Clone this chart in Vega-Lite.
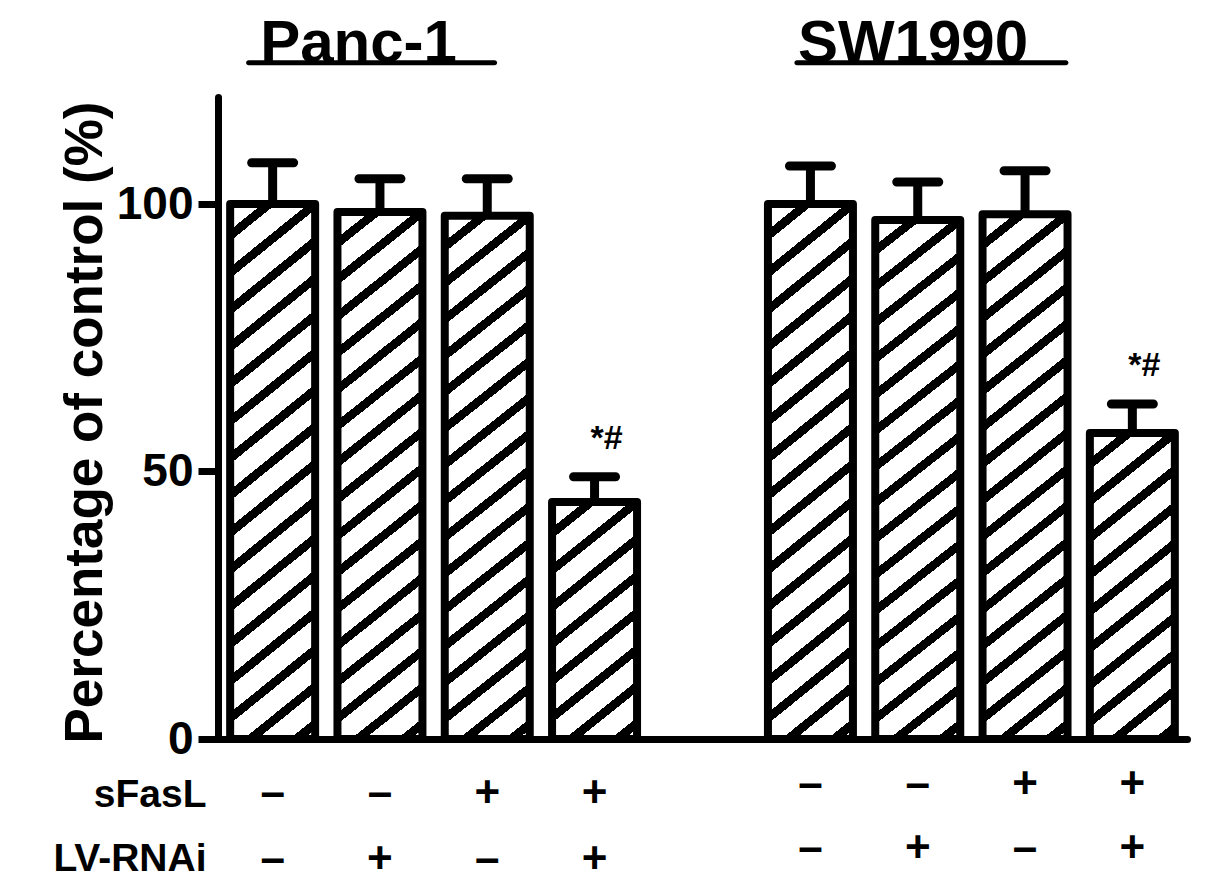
{
"$schema": "https://vega.github.io/schema/vega-lite/v6.json",
"width": 969,
"height": 642,
"autosize": {"type": "none"},
"padding": {"left": 218, "top": 97, "right": 18, "bottom": 149},
"background": "white",
"config": {"view": {"stroke": null}, "font": "Liberation Sans", "text": {"font": "Liberation Sans", "fontWeight": "bold", "color": "black"}},
"data": {"values": [
 {"line": "Panc-1", "cond": "Control", "sFasL": "–", "LV": "–", "value": 100, "upper": 107.7, "sig": ""},
 {"line": "Panc-1", "cond": "LV-RNAi", "sFasL": "–", "LV": "+", "value": 98.5, "upper": 104.7, "sig": ""},
 {"line": "Panc-1", "cond": "sFasL", "sFasL": "+", "LV": "–", "value": 97.8, "upper": 104.7, "sig": ""},
 {"line": "Panc-1", "cond": "sFasL+LV-RNAi", "sFasL": "+", "LV": "+", "value": 44.3, "upper": 49.0, "sig": "*#"},
 {"line": "SW1990", "cond": "Control", "sFasL": "–", "LV": "–", "value": 100, "upper": 107.1, "sig": ""},
 {"line": "SW1990", "cond": "LV-RNAi", "sFasL": "–", "LV": "+", "value": 97.0, "upper": 104.1, "sig": ""},
 {"line": "SW1990", "cond": "sFasL", "sFasL": "+", "LV": "–", "value": 98.1, "upper": 106.2, "sig": ""},
 {"line": "SW1990", "cond": "sFasL+LV-RNAi", "sFasL": "+", "LV": "+", "value": 57.2, "upper": 62.6, "sig": "*#"}
]},
"layer": [
 {
  "mark": {"type": "bar", "stroke": "black", "strokeWidth": 8, "strokeJoin": "round"},
  "encoding": {
   "x": {"field": "line", "type": "nominal", "scale": {"paddingInner": 0.2434, "paddingOuter": 0.0226},
     "axis": {"labels": false, "ticks": false, "domainColor": "black", "domainWidth": 7, "domainCap": "round",
       "title": ["sFasL", "LV-RNAi"], "titleFont": "Liberation Sans", "titleFontSize": 39, "titleFontWeight": "bold", "titleColor": "black",
       "titleAlign": "right", "titleBaseline": "alphabetic", "titleLineHeight": 64, "titleX": -12, "titleY": 67}},
   "xOffset": {"field": "cond", "type": "nominal", "scale": {"paddingInner": 0.208, "paddingOuter": 0}},
   "y": {"field": "value", "type": "quantitative", "scale": {"domain": [0, 120], "nice": false},
     "axis": {"values": [0, 50, 100], "grid": false, "domainColor": "black", "domainWidth": 7, "domainCap": "round",
       "tickColor": "black", "tickSize": 20, "tickWidth": 7, "labelFont": "Liberation Sans", "labelFontSize": 46, "labelFontWeight": "bold",
       "labelColor": "black", "labelPadding": 5, "title": "Percentage of control (%)", "titleFont": "Liberation Sans", "titleFontSize": 53,
       "titleFontWeight": "bold", "titleColor": "black", "titleX": -117, "titleY": 325, "titleAlign": "center", "titleBaseline": "alphabetic", "titleAngle": 270}},
   "fill": {
    "condition": [
     {"test": "datum.value < 50", "value": {"gradient": "linear", "x1": 0, "y1": 0, "x2": 0.3412, "y2": 1.189, "stops": [
      {"offset": 0, "color": "#fff"},
      {"offset": 0.0847, "color": "#fff"}, {"offset": 0.0847, "color": "#000"}, {"offset": 0.1207, "color": "#000"}, {"offset": 0.1207, "color": "#fff"},
      {"offset": 0.2054, "color": "#fff"}, {"offset": 0.2054, "color": "#000"}, {"offset": 0.2414, "color": "#000"}, {"offset": 0.2414, "color": "#fff"},
      {"offset": 0.3261, "color": "#fff"}, {"offset": 0.3261, "color": "#000"}, {"offset": 0.3621, "color": "#000"}, {"offset": 0.3621, "color": "#fff"},
      {"offset": 0.4468, "color": "#fff"}, {"offset": 0.4468, "color": "#000"}, {"offset": 0.4828, "color": "#000"}, {"offset": 0.4828, "color": "#fff"},
      {"offset": 0.5675, "color": "#fff"}, {"offset": 0.5675, "color": "#000"}, {"offset": 0.6035, "color": "#000"}, {"offset": 0.6035, "color": "#fff"},
      {"offset": 0.6882, "color": "#fff"}, {"offset": 0.6882, "color": "#000"}, {"offset": 0.7242, "color": "#000"}, {"offset": 0.7242, "color": "#fff"},
      {"offset": 0.8089, "color": "#fff"}, {"offset": 0.8089, "color": "#000"}, {"offset": 0.8449, "color": "#000"}, {"offset": 0.8449, "color": "#fff"},
      {"offset": 0.9296, "color": "#fff"}, {"offset": 0.9296, "color": "#000"}, {"offset": 0.9656, "color": "#000"}, {"offset": 0.9656, "color": "#fff"},
      {"offset": 1, "color": "#fff"}]}},
     {"test": "datum.value < 70", "value": {"gradient": "linear", "x1": 0, "y1": 0, "x2": 0.2588, "y2": 1.1647, "stops": [
      {"offset": 0, "color": "#fff"},
      {"offset": 0.069, "color": "#fff"}, {"offset": 0.069, "color": "#000"}, {"offset": 0.0984, "color": "#000"}, {"offset": 0.0984, "color": "#fff"},
      {"offset": 0.1674, "color": "#fff"}, {"offset": 0.1674, "color": "#000"}, {"offset": 0.1968, "color": "#000"}, {"offset": 0.1968, "color": "#fff"},
      {"offset": 0.2658, "color": "#fff"}, {"offset": 0.2658, "color": "#000"}, {"offset": 0.2952, "color": "#000"}, {"offset": 0.2952, "color": "#fff"},
      {"offset": 0.3642, "color": "#fff"}, {"offset": 0.3642, "color": "#000"}, {"offset": 0.3936, "color": "#000"}, {"offset": 0.3936, "color": "#fff"},
      {"offset": 0.4626, "color": "#fff"}, {"offset": 0.4626, "color": "#000"}, {"offset": 0.492, "color": "#000"}, {"offset": 0.492, "color": "#fff"},
      {"offset": 0.561, "color": "#fff"}, {"offset": 0.561, "color": "#000"}, {"offset": 0.5904, "color": "#000"}, {"offset": 0.5904, "color": "#fff"},
      {"offset": 0.6594, "color": "#fff"}, {"offset": 0.6594, "color": "#000"}, {"offset": 0.6888, "color": "#000"}, {"offset": 0.6888, "color": "#fff"},
      {"offset": 0.7578, "color": "#fff"}, {"offset": 0.7578, "color": "#000"}, {"offset": 0.7872, "color": "#000"}, {"offset": 0.7872, "color": "#fff"},
      {"offset": 0.8562, "color": "#fff"}, {"offset": 0.8562, "color": "#000"}, {"offset": 0.8856, "color": "#000"}, {"offset": 0.8856, "color": "#fff"},
      {"offset": 0.9546, "color": "#fff"}, {"offset": 0.9546, "color": "#000"}, {"offset": 0.984, "color": "#000"}, {"offset": 0.984, "color": "#fff"},
      {"offset": 1, "color": "#fff"}]}}
    ],
    "value": {"gradient": "linear", "x1": 0, "y1": 0, "x2": 0.1424, "y2": 1.110, "stops": [
      {"offset": 0, "color": "#fff"},
      {"offset": 0.0431, "color": "#fff"}, {"offset": 0.0431, "color": "#000"}, {"offset": 0.0615, "color": "#000"}, {"offset": 0.0615, "color": "#fff"},
      {"offset": 0.1046, "color": "#fff"}, {"offset": 0.1046, "color": "#000"}, {"offset": 0.123, "color": "#000"}, {"offset": 0.123, "color": "#fff"},
      {"offset": 0.1661, "color": "#fff"}, {"offset": 0.1661, "color": "#000"}, {"offset": 0.1845, "color": "#000"}, {"offset": 0.1845, "color": "#fff"},
      {"offset": 0.2276, "color": "#fff"}, {"offset": 0.2276, "color": "#000"}, {"offset": 0.246, "color": "#000"}, {"offset": 0.246, "color": "#fff"},
      {"offset": 0.2891, "color": "#fff"}, {"offset": 0.2891, "color": "#000"}, {"offset": 0.3075, "color": "#000"}, {"offset": 0.3075, "color": "#fff"},
      {"offset": 0.3506, "color": "#fff"}, {"offset": 0.3506, "color": "#000"}, {"offset": 0.369, "color": "#000"}, {"offset": 0.369, "color": "#fff"},
      {"offset": 0.4121, "color": "#fff"}, {"offset": 0.4121, "color": "#000"}, {"offset": 0.4305, "color": "#000"}, {"offset": 0.4305, "color": "#fff"},
      {"offset": 0.4736, "color": "#fff"}, {"offset": 0.4736, "color": "#000"}, {"offset": 0.492, "color": "#000"}, {"offset": 0.492, "color": "#fff"},
      {"offset": 0.5351, "color": "#fff"}, {"offset": 0.5351, "color": "#000"}, {"offset": 0.5535, "color": "#000"}, {"offset": 0.5535, "color": "#fff"},
      {"offset": 0.5966, "color": "#fff"}, {"offset": 0.5966, "color": "#000"}, {"offset": 0.615, "color": "#000"}, {"offset": 0.615, "color": "#fff"},
      {"offset": 0.6581, "color": "#fff"}, {"offset": 0.6581, "color": "#000"}, {"offset": 0.6765, "color": "#000"}, {"offset": 0.6765, "color": "#fff"},
      {"offset": 0.7196, "color": "#fff"}, {"offset": 0.7196, "color": "#000"}, {"offset": 0.738, "color": "#000"}, {"offset": 0.738, "color": "#fff"},
      {"offset": 0.7811, "color": "#fff"}, {"offset": 0.7811, "color": "#000"}, {"offset": 0.7995, "color": "#000"}, {"offset": 0.7995, "color": "#fff"},
      {"offset": 0.8426, "color": "#fff"}, {"offset": 0.8426, "color": "#000"}, {"offset": 0.861, "color": "#000"}, {"offset": 0.861, "color": "#fff"},
      {"offset": 0.9041, "color": "#fff"}, {"offset": 0.9041, "color": "#000"}, {"offset": 0.9225, "color": "#000"}, {"offset": 0.9225, "color": "#fff"},
      {"offset": 0.9656, "color": "#fff"}, {"offset": 0.9656, "color": "#000"}, {"offset": 0.984, "color": "#000"}, {"offset": 0.984, "color": "#fff"},
      {"offset": 1, "color": "#fff"}]}
   }
  }
 },
 {
  "mark": {"type": "rule", "strokeWidth": 9, "color": "black"},
  "encoding": {
   "x": {"field": "line", "type": "nominal"},
   "xOffset": {"field": "cond", "type": "nominal"},
   "y": {"field": "value", "type": "quantitative"},
   "y2": {"field": "upper"}
  }
 },
 {
  "mark": {"type": "tick", "orient": "horizontal", "size": 51, "thickness": 9, "cornerRadius": 4.5, "color": "black", "opacity": 1},
  "encoding": {
   "x": {"field": "line", "type": "nominal"},
   "xOffset": {"field": "cond", "type": "nominal"},
   "y": {"field": "upper", "type": "quantitative"}
  }
 },
 {
  "mark": {"type": "text", "fontSize": 34, "dx": 12, "dy": -38, "baseline": "middle"},
  "encoding": {
   "x": {"field": "line", "type": "nominal"},
   "xOffset": {"field": "cond", "type": "nominal"},
   "y": {"field": "upper", "type": "quantitative"},
   "text": {"field": "sig"}
  }
 },
 {
  "mark": {"type": "text", "fontSize": 44, "baseline": "middle", "yOffset": {"expr": "datum.line === 'SW1990' ? -9 : 0"}},
  "encoding": {
   "x": {"field": "line", "type": "nominal"},
   "xOffset": {"field": "cond", "type": "nominal"},
   "y": {"datum": -10.3},
   "text": {"field": "sFasL"}
  }
 },
 {
  "mark": {"type": "text", "fontSize": 44, "baseline": "middle", "yOffset": {"expr": "datum.line === 'SW1990' ? -11 : 0"}},
  "encoding": {
   "x": {"field": "line", "type": "nominal"},
   "xOffset": {"field": "cond", "type": "nominal"},
   "y": {"datum": -22.6},
   "text": {"field": "LV"}
  }
 },
 {
  "data": {"values": [{"line": "Panc-1"}, {"line": "SW1990"}]},
  "mark": {"type": "text", "fontSize": 60, "align": "left", "baseline": "alphabetic", "dx": 30},
  "encoding": {
   "x": {"field": "line", "type": "nominal", "bandPosition": 0},
   "y": {"datum": 126.6},
   "text": {"field": "line"}
  }
 },
 {
  "data": {"values": [{"line": "Panc-1"}, {"line": "SW1990"}]},
  "mark": {"type": "tick", "orient": "horizontal", "thickness": 5, "cornerRadius": 2.5, "color": "black", "opacity": 1,
    "xOffset": {"expr": "datum.line === 'Panc-1' ? -62 : -40"}},
  "encoding": {
   "x": {"field": "line", "type": "nominal"},
   "y": {"datum": 126.4},
   "size": {"condition": {"test": "datum.line === 'Panc-1'", "value": 251}, "value": 274}
  }
 }
]
}
